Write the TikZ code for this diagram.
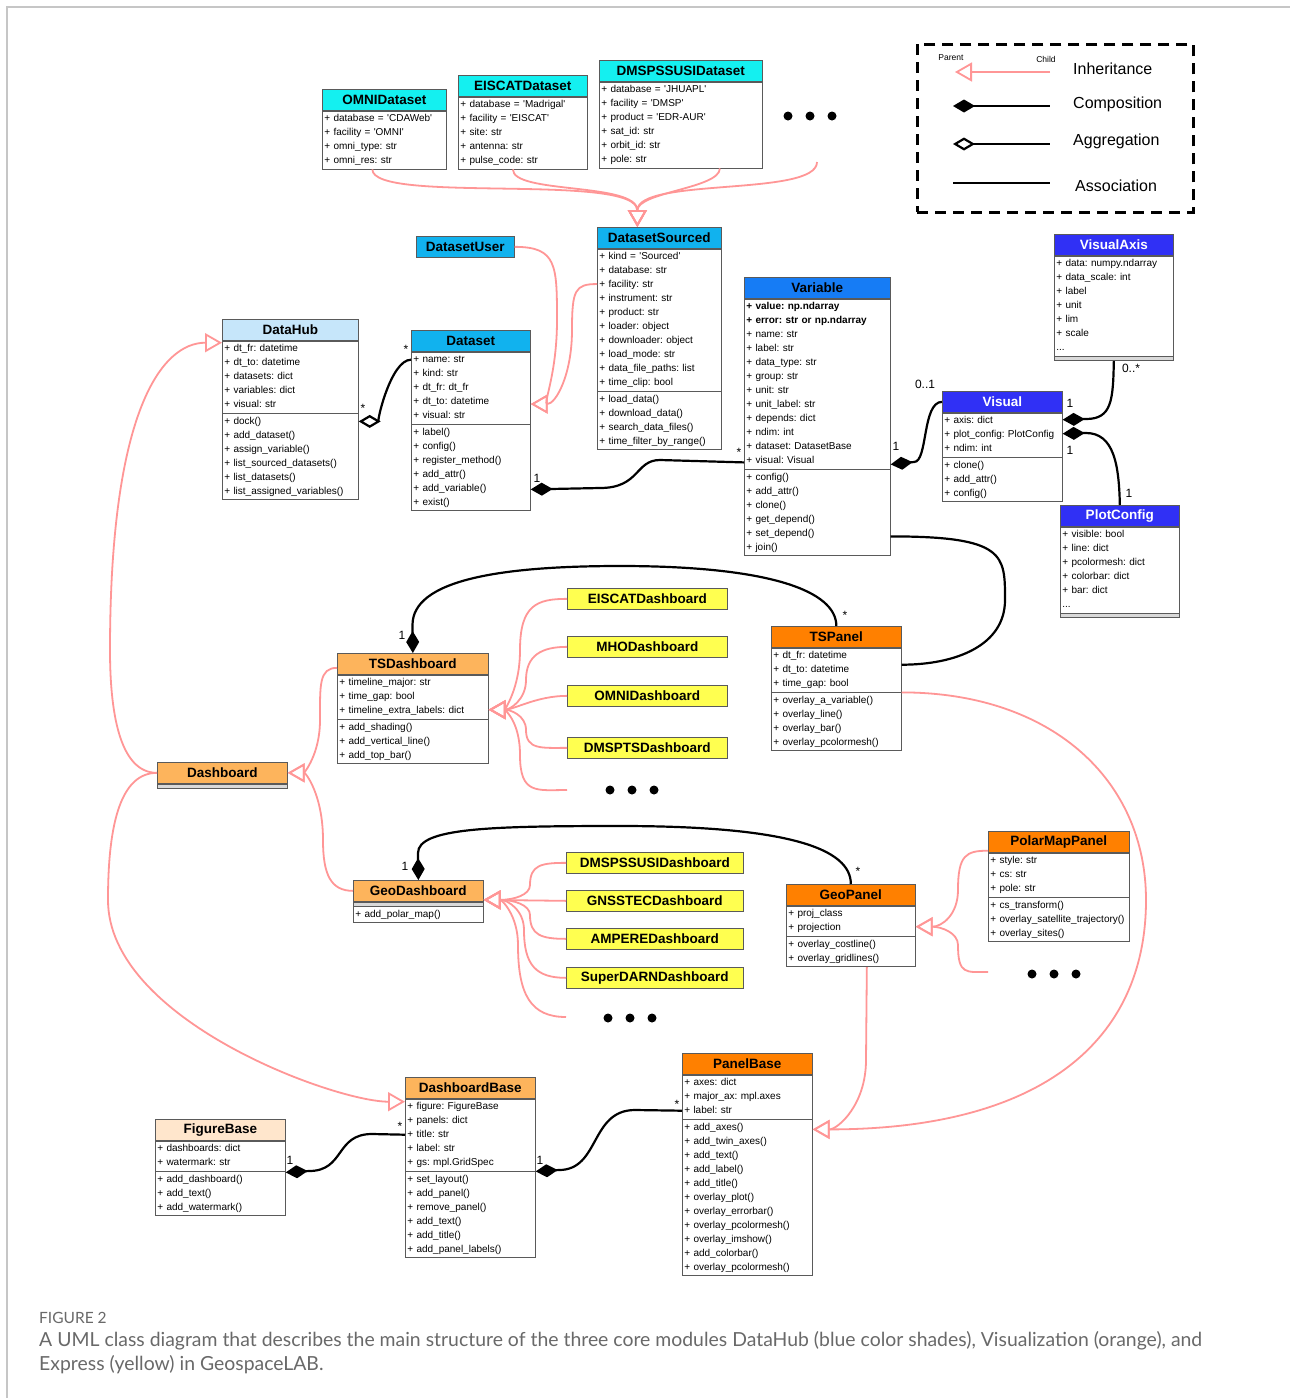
\documentclass[tikz,border=0pt]{standalone}
\usepackage{fontspec}
\setmainfont{Liberation Sans}
\newfontfamily\capfont{Lato}
\usetikzlibrary{arrows.meta,calc}
\frenchspacing
\definecolor{cyanA}{RGB}{20,240,240}
\definecolor{skyA}{RGB}{17,178,238}
\definecolor{hubA}{RGB}{198,230,250}
\definecolor{varA}{RGB}{22,124,245}
\definecolor{visA}{RGB}{48,48,245}
\definecolor{lorA}{RGB}{253,180,92}
\definecolor{orA}{RGB}{255,128,0}
\definecolor{peachA}{RGB}{255,230,204}
\definecolor{yelA}{RGB}{255,255,80}
\definecolor{pinkA}{RGB}{255,150,150}
\definecolor{bordA}{RGB}{90,90,90}
\definecolor{capA}{RGB}{105,105,105}
\newcommand\squo{\XeTeXglyph\XeTeXcharglyph"0027\relax}
\newcommand\UR[1]{\strut\mbox{+ #1}}
\newcommand\URb[1]{\strut\mbox{\bfseries + #1}}
\newcommand\UD{\strut\mbox{...}}
\newcommand\umlT[6]{\node[ctitle, fill=#5, minimum width=#4pt] (#1) at (#2,#3) {#6};}
\newcommand\umlS[4]{\pgfmathsetmacro\umltw{#3-4}\node[csec, text width=\umltw pt] (#1) at (#2.south west) {#4};}
\newcommand\umlE[3]{\node[cempty, minimum width=#3pt] (#1) at (#2.south west) {};}
\tikzset{
 bx/.style={draw=bordA, line width=0.7pt, anchor=north west},
 ctitle/.style={bx, minimum height=21pt, inner sep=0pt, font=\fontsize{13.5}{16}\selectfont\bfseries},
 csec/.style={bx, fill=white, inner xsep=2pt, inner ysep=1pt, align=left, font=\fontsize{10}{14}\selectfont\frenchspacing},
 cempty/.style={bx, fill=gray!30, inner sep=0pt, minimum height=4pt},
 ybox/.style={bx, fill=yelA, minimum width=#1, minimum height=21pt, inner sep=0pt, font=\fontsize{13.5}{16}\selectfont\bfseries},
 inh/.style={draw=pinkA, line width=1.8pt, -{Triangle[open,length=17pt,width=19pt]}},
 comp/.style={draw=black, line width=2.2pt, {Diamond[length=22pt,width=13pt]}-},
 agg/.style={draw=black, line width=2.2pt, {Diamond[open,length=22pt,width=13pt]}-},
 assoc/.style={draw=black, line width=2.2pt},
 mult/.style={font=\fontsize{12}{14}\selectfont, inner sep=0pt},
 dotn/.style={circle, fill=black, minimum size=9pt, inner sep=0pt},
 lgtext/.style={anchor=west, font=\fontsize{16}{19}\selectfont, inner sep=0pt},
 lgsmall/.style={font=\fontsize{8.5}{10}\selectfont, inner sep=0pt},
}
\begin{document}
\begin{tikzpicture}[x=1pt,y=-1pt]
\useasboundingbox (0,0) rectangle (1290,1398);
\fill[white] (0,0) rectangle (1290,1398);
\draw[gray!45, line width=1.2pt] (7,1398) -- (7,7) -- (1290,7);

% ---------- legend
\node[draw, line width=2.8pt, dash pattern=on 11pt off 7pt, anchor=north west, minimum width=276pt, minimum height=168pt, inner sep=0pt] (legend) at (916,43) {};
\coordinate (lgA1) at (1050,72); \coordinate (lgA2) at (955,72);
\draw[inh] (lgA1) -- (lgA2);
\node[lgsmall] (lgParent) at (951,58) {Parent};
\node[lgsmall] (lgChild) at (1046,59) {Child};
\node[lgtext] (lgI) at (1073,69) {Inheritance};
\coordinate (lgC1) at (953,106); \coordinate (lgC2) at (1050,106);
\draw[comp] (lgC1) -- (lgC2);
\node[lgtext] (lgC) at (1073,104) {Composition};
\coordinate (lgG1) at (953,144); \coordinate (lgG2) at (1050,144);
\draw[agg] (lgG1) -- (lgG2);
\node[lgtext] (lgG) at (1073,141) {Aggregation};
\coordinate (lgS1) at (953,183); \coordinate (lgS2) at (1050,183);
\draw[assoc] (lgS1) -- (lgS2);
\node[lgtext] (lgS) at (1075,186) {Association};

% ---------- dataset classes
\umlT{OMNI}{322}{89}{124}{cyanA}{OMNIDataset}
\umlS{OMNI-a}{OMNI}{124}{\UR{database = \squo CDAWeb\squo}\\\UR{facility = \squo OMNI\squo}\\\UR{omni\_type: str}\\\UR{omni\_res: str}}
\umlT{EISCAT}{458}{75}{129}{cyanA}{EISCATDataset}
\umlS{EISCAT-a}{EISCAT}{129}{\UR{database = \squo Madrigal\squo}\\\UR{facility = \squo EISCAT\squo}\\\UR{site: str}\\\UR{antenna: str}\\\UR{pulse\_code: str}}
\umlT{DMSP}{599}{60}{163}{cyanA}{DMSPSSUSIDataset}
\umlS{DMSP-a}{DMSP}{163}{\UR{database = \squo JHUAPL\squo}\\\UR{facility = \squo DMSP\squo}\\\UR{product = \squo EDR-AUR\squo}\\\UR{sat\_id: str}\\\UR{orbit\_id: str}\\\UR{pole: str}}
\node[dotn] (dA1) at (788,116) {};
\node[dotn] (dA2) at (810,116) {};
\node[dotn] (dA3) at (832,116) {};
\coordinate (dcA) at (817,162);

\umlT{DatasetUser}{416}{236}{98}{skyA}{DatasetUser}
\umlT{DatasetSourced}{597}{227}{124}{skyA}{DatasetSourced}
\umlS{DatasetSourced-a}{DatasetSourced}{124}{\UR{kind = \squo Sourced\squo}\\\UR{database: str}\\\UR{facility: str}\\\UR{instrument: str}\\\UR{product: str}\\\UR{loader: object}\\\UR{downloader: object}\\\UR{load\_mode: str}\\\UR{data\_file\_paths: list}\\\UR{time\_clip: bool}}
\umlS{DatasetSourced-m}{DatasetSourced-a}{124}{\UR{load\_data()}\\\UR{download\_data()}\\\UR{search\_data\_files()}\\\UR{time\_filter\_by\_range()}}

\umlT{Dataset}{411}{330}{119}{skyA}{Dataset}
\umlS{Dataset-a}{Dataset}{119}{\UR{name: str}\\\UR{kind: str}\\\UR{dt\_fr: dt\_fr}\\\UR{dt\_to: datetime}\\\UR{visual: str}}
\umlS{Dataset-m}{Dataset-a}{119}{\UR{label()}\\\UR{config()}\\\UR{register\_method()}\\\UR{add\_attr()}\\\UR{add\_variable()}\\\UR{exist()}}

\umlT{DataHub}{222}{319}{136}{hubA}{DataHub}
\umlS{DataHub-a}{DataHub}{136}{\UR{dt\_fr: datetime}\\\UR{dt\_to: datetime}\\\UR{datasets: dict}\\\UR{variables: dict}\\\UR{visual: str}}
\umlS{DataHub-m}{DataHub-a}{136}{\UR{dock()}\\\UR{add\_dataset()}\\\UR{assign\_variable()}\\\UR{list\_sourced\_datasets()}\\\UR{list\_datasets()}\\\UR{list\_assigned\_variables()}}

\umlT{Variable}{744}{277}{146}{varA}{Variable}
\umlS{Variable-a}{Variable}{146}{\URb{value: np.ndarray}\\\URb{error: str or np.ndarray}\\\UR{name: str}\\\UR{label: str}\\\UR{data\_type: str}\\\UR{group: str}\\\UR{unit: str}\\\UR{unit\_label: str}\\\UR{depends: dict}\\\UR{ndim: int}\\\UR{dataset: DatasetBase}\\\UR{visual: Visual}}
\umlS{Variable-m}{Variable-a}{146}{\UR{config()}\\\UR{add\_attr()}\\\UR{clone()}\\\UR{get\_depend()}\\\UR{set\_depend()}\\\UR{join()}}

\umlT{VisualAxis}{1054}{234}{119}{visA}{\color{white}VisualAxis}
\umlS{VisualAxis-a}{VisualAxis}{119}{\UR{data: numpy.ndarray}\\\UR{data\_scale: int}\\\UR{label}\\\UR{unit}\\\UR{lim}\\\UR{scale}\\\UD}
\umlE{VisualAxis-m}{VisualAxis-a}{119}

\umlT{Visual}{942}{391}{120}{visA}{\color{white}Visual}
\umlS{Visual-a}{Visual}{120}{\UR{axis: dict}\\\UR{plot\_config: PlotConfig}\\\UR{ndim: int}}
\umlS{Visual-m}{Visual-a}{120}{\UR{clone()}\\\UR{add\_attr()}\\\UR{config()}}

\umlT{PlotConfig}{1060}{505}{119}{visA}{\color{white}PlotConfig}
\umlS{PlotConfig-a}{PlotConfig}{119}{\UR{visible: bool}\\\UR{line: dict}\\\UR{pcolormesh: dict}\\\UR{colorbar: dict}\\\UR{bar: dict}\\\UD}
\umlE{PlotConfig-m}{PlotConfig-a}{119}

% ---------- visualization classes
\umlT{TSDashboard}{337}{653}{151}{lorA}{TSDashboard}
\umlS{TSDashboard-a}{TSDashboard}{151}{\UR{timeline\_major: str}\\\UR{time\_gap: bool}\\\UR{timeline\_extra\_labels: dict}}
\umlS{TSDashboard-m}{TSDashboard-a}{151}{\UR{add\_shading()}\\\UR{add\_vertical\_line()}\\\UR{add\_top\_bar()}}

\umlT{TSPanel}{771}{626}{130}{orA}{TSPanel}
\umlS{TSPanel-a}{TSPanel}{130}{\UR{dt\_fr: datetime}\\\UR{dt\_to: datetime}\\\UR{time\_gap: bool}}
\umlS{TSPanel-m}{TSPanel-a}{130}{\UR{overlay\_a\_variable()}\\\UR{overlay\_line()}\\\UR{overlay\_bar()}\\\UR{overlay\_pcolormesh()}}

\umlT{Dashboard}{157}{762}{130}{lorA}{Dashboard}
\umlE{Dashboard-a}{Dashboard}{130}

\umlT{GeoDashboard}{353}{880}{130}{lorA}{GeoDashboard}
\umlE{GeoDashboard-a}{GeoDashboard}{130}
\umlS{GeoDashboard-m}{GeoDashboard-a}{130}{\UR{add\_polar\_map()}}

\umlT{GeoPanel}{786}{884}{129}{orA}{GeoPanel}
\umlS{GeoPanel-a}{GeoPanel}{129}{\UR{proj\_class}\\\UR{projection}}
\umlS{GeoPanel-m}{GeoPanel-a}{129}{\UR{overlay\_costline()}\\\UR{overlay\_gridlines()}}

\umlT{PolarMapPanel}{988}{831}{141}{orA}{PolarMapPanel}
\umlS{PolarMapPanel-a}{PolarMapPanel}{141}{\UR{style: str}\\\UR{cs: str}\\\UR{pole: str}}
\umlS{PolarMapPanel-m}{PolarMapPanel-a}{141}{\UR{cs\_transform()}\\\UR{overlay\_satellite\_trajectory()}\\\UR{overlay\_sites()}}

\umlT{FigureBase}{155}{1119}{130}{peachA}{FigureBase}
\umlS{FigureBase-a}{FigureBase}{130}{\UR{dashboards: dict}\\\UR{watermark: str}}
\umlS{FigureBase-m}{FigureBase-a}{130}{\UR{add\_dashboard()}\\\UR{add\_text()}\\\UR{add\_watermark()}}

\umlT{DashboardBase}{405}{1077}{130}{lorA}{DashboardBase}
\umlS{DashboardBase-a}{DashboardBase}{130}{\UR{figure: FigureBase}\\\UR{panels: dict}\\\UR{title: str}\\\UR{label: str}\\\UR{gs: mpl.GridSpec}}
\umlS{DashboardBase-m}{DashboardBase-a}{130}{\UR{set\_layout()}\\\UR{add\_panel()}\\\UR{remove\_panel()}\\\UR{add\_text()}\\\UR{add\_title()}\\\UR{add\_panel\_labels()}}

\umlT{PanelBase}{682}{1053}{130}{orA}{PanelBase}
\umlS{PanelBase-a}{PanelBase}{130}{\UR{axes: dict}\\\UR{major\_ax: mpl.axes}\\\UR{label: str}}
\umlS{PanelBase-m}{PanelBase-a}{130}{\UR{add\_axes()}\\\UR{add\_twin\_axes()}\\\UR{add\_text()}\\\UR{add\_label()}\\\UR{add\_title()}\\\UR{overlay\_plot()}\\\UR{overlay\_errorbar()}\\\UR{overlay\_pcolormesh()}\\\UR{overlay\_imshow()}\\\UR{add\_colorbar()}\\\UR{overlay\_pcolormesh()}}

% ---------- express (yellow) classes
\node[ybox=160pt] (EISCATDashboard) at (567,588) {EISCATDashboard};
\node[ybox=160pt] (MHODashboard) at (567,636) {MHODashboard};
\node[ybox=160pt] (OMNIDashboard) at (567,685) {OMNIDashboard};
\node[ybox=160pt] (DMSPTSDashboard) at (567,737) {DMSPTSDashboard};
\node[ybox=177pt] (DMSPSSUSIDashboard) at (566,852) {DMSPSSUSIDashboard};
\node[ybox=177pt] (GNSSTECDashboard) at (566,890) {GNSSTECDashboard};
\node[ybox=177pt] (AMPEREDashboard) at (566,928) {AMPEREDashboard};
\node[ybox=177pt] (SuperDARNDashboard) at (566,967) {SuperDARNDashboard};

\node[dotn] (dT1) at (610,790) {};
\node[dotn] (dT2) at (632,790) {};
\node[dotn] (dT3) at (654,790) {};
\coordinate (dcT) at (567,790);
\node[dotn] (dG1) at (608,1018) {};
\node[dotn] (dG2) at (630,1018) {};
\node[dotn] (dG3) at (652,1018) {};
\coordinate (dcG) at (566,1017);
\node[dotn] (dP1) at (1032,974) {};
\node[dotn] (dP2) at (1054,974) {};
\node[dotn] (dP3) at (1076,974) {};
\coordinate (dcP) at (988,972);

% ---------- inheritance tips
\coordinate (tipDS) at ($(DatasetSourced.north)+(-22,0)$);
\coordinate (tipD) at ($(Dataset-a.east)+(0,16)$);
\coordinate (tipHub) at ($(DataHub.south west)+(0,2)$);
\coordinate (tipDB) at ($(DashboardBase.south west)+(0,3)$);
\coordinate (tipTS) at ($(TSDashboard-a.north east)+(0,35)$);
\coordinate (tipGeo) at ($(GeoDashboard.east)+(0,9)$);
\coordinate (tipGP) at ($(GeoPanel-a.north east)+(0,21)$);
\coordinate (tipPB) at ($(PanelBase-m.north east)+(0,10)$);

% ---------- inheritance links
\draw[inh] ($(OMNI-a.south)+(-12,0)$) .. controls +(0,35) and +(0,-55) .. (tipDS);
\draw[inh] ($(EISCAT-a.south)+(-10,0)$) .. controls +(0,25) and +(0,-45) .. (tipDS);
\draw[inh] ($(DMSP-a.south)+(39,0)$) .. controls +(0,20) and +(0,-35) .. (tipDS);
\draw[inh] (dcA) .. controls +(0,35) and +(0,-50) .. (tipDS);

\draw[inh] (DatasetUser.east) .. controls +(42,0) and +(0,-55) .. (557,320) .. controls +(0,55) and +(12,0) .. (tipD);
\draw[inh] ($(DatasetSourced-a.west)+(0,-36)$) .. controls +(-22,0) and +(0,-40) .. (572,330) .. controls +(0,45) and +(25,0) .. (tipD);

\draw[inh] (Dashboard.west) .. controls +(-35,0) and +(0,70) .. (110,650) .. controls +(0,-240) and +(-60,0) .. (tipHub);
\draw[inh] (Dashboard.west) .. controls +(-35,0) and +(0,-80) .. (108,900) .. controls +(0,120) and +(-70,0) .. (tipDB);

\draw[inh] ($(TSDashboard.west)+(0,4)$) .. controls +(-18,0) and +(0,-35) .. (320,720) .. controls +(0,35) and +(16,0) .. (Dashboard.east);
\draw[inh] (GeoDashboard.west) .. controls +(-22,0) and +(0,35) .. (323,840) .. controls +(0,-45) and +(18,0) .. (Dashboard.east);

\draw[inh] (EISCATDashboard.west) .. controls +(-30,0) and +(0,-45) .. (520,650) .. controls +(0,40) and +(15,0) .. (tipTS);
\draw[inh] (MHODashboard.west) .. controls +(-25,0) and +(0,-25) .. (526,680) .. controls +(0,20) and +(21,0) .. (tipTS);
\draw[inh] (OMNIDashboard.west) .. controls +(-30,0) and +(25,0) .. (tipTS);
\draw[inh] (DMSPTSDashboard.west) .. controls +(-25,0) and +(0,20) .. (526,730) .. controls +(0,-15) and +(21,0) .. (tipTS);
\draw[inh] (dcT) .. controls +(-30,0) and +(0,40) .. (520,755) .. controls +(0,-35) and +(15,0) .. (tipTS);

\draw[inh] (DMSPSSUSIDashboard.west) .. controls +(-25,0) and +(0,-20) .. (530,885) .. controls +(0,10) and +(30,0) .. (tipGeo);
\draw[inh] (GNSSTECDashboard.west) -- (tipGeo);
\draw[inh] (AMPEREDashboard.west) .. controls +(-25,0) and +(0,20) .. (530,915) .. controls +(0,-10) and +(30,0) .. (tipGeo);
\draw[inh] (SuperDARNDashboard.west) .. controls +(-30,0) and +(0,35) .. (524,930) .. controls +(0,-20) and +(24,0) .. (tipGeo);
\draw[inh] (dcG) .. controls +(-35,0) and +(0,50) .. (518,945) .. controls +(0,-30) and +(18,0) .. (tipGeo);

\draw[inh] ($(PolarMapPanel-a.north west)+(0,-2)$) .. controls +(-22,0) and +(0,-35) .. (958,890) .. controls +(0,25) and +(26,0) .. (tipGP);
\draw[inh] (dcP) .. controls +(-22,0) and +(0,30) .. (958,945) .. controls +(0,-12) and +(26,0) .. (tipGP);

\draw[inh] ($(GeoPanel-m.south)+(16,0)$) -- (866,1060) .. controls +(0,45) and +(25,0) .. (tipPB);
\draw[inh] (TSPanel-a.south east) .. controls +(150,0) and +(0,-120) .. (1146,900) .. controls +(0,140) and +(230,0) .. (tipPB);

% ---------- composition / aggregation / association
\draw[agg] ($(DataHub-m.north east)+(0,8)$) .. controls +(18,0) and +(-20,0) .. ($(Dataset.south west)+(0,8)$);
\draw[comp] ($(Dataset-m.north east)+(0,65)$) -- (600,488) .. controls (640,488) and (635,460) .. (660,460) -- ($(Variable-a.south west)+(0,-7)$);
\draw[comp] ($(Variable-a.south east)+(0,-5)$) -- (914,462) .. controls (928,462) and (922,402) .. (Visual.west);
\draw[comp] ($(Visual-a.north east)+(0,7)$) -- (1086,419) .. controls (1112,419) and (1113,400) .. (VisualAxis-m.south);
\draw[comp] ($(Visual-a.north east)+(0,21)$) -- (1086,433) .. controls (1114,433) and (1119,465) .. (PlotConfig.north);
\draw[assoc] ($(Variable-m.north east)+(0,67)$) .. controls +(115,0) and +(0,-45) .. (1005,600) .. controls +(0,45) and +(55,0) .. ($(TSPanel-a.north east)+(0,17)$);
\draw[comp] (TSDashboard.north) -- (412.5,625) .. controls +(0,-45) and +(-120,0) .. (620,566) .. controls +(150,0) and +(0,-35) .. (TSPanel.north);
\draw[comp] (GeoDashboard.north) -- (418,853) .. controls +(0,-25) and +(-130,0) .. (620,826) .. controls +(170,0) and +(0,-35) .. (GeoPanel.north);
\draw[comp] ($(FigureBase-m.north east)+(0,1)$) -- (309,1171) .. controls (345,1171) and (335,1134) .. (372,1134) -- ($(DashboardBase-a.north west)+(0,36)$);
\draw[comp] (DashboardBase-m.north east) -- (559,1170) .. controls (600,1170) and (590,1110) .. (635,1110) -- ($(PanelBase-a.north west)+(0,36)$);

% ---------- multiplicities
\node[mult] (m1) at (363,408) {*};
\node[mult] (m2) at (406,349) {*};
\node[mult] (m3) at (537,478) {1};
\node[mult] (m4) at (739,452) {*};
\node[mult] (m5) at (896,446) {1};
\node[mult] (m6) at (925,384) {0..1};
\node[mult] (m7) at (1070,403) {1};
\node[mult] (m8) at (1131,368) {0..*};
\node[mult] (m9) at (1070,450) {1};
\node[mult] (m10) at (1129,493) {1};
\node[mult] (m11) at (402,635) {1};
\node[mult] (m12) at (845,615) {*};
\node[mult] (m13) at (405,866) {1};
\node[mult] (m14) at (858,871) {*};
\node[mult] (m15) at (290,1160) {1};
\node[mult] (m16) at (400,1126) {*};
\node[mult] (m17) at (540,1160) {1};
\node[mult] (m18) at (677,1104) {*};

% ---------- caption
\node[anchor=west, inner sep=0pt, text=capA, font=\capfont\fontsize{15.5}{18}\selectfont] (capT) at (39,1318) {FIGURE 2};
\node[anchor=north west, inner sep=0pt, align=left, text=capA, font=\capfont\fontsize{19.4}{24.5}\selectfont] (capB) at (39,1331) {A UML class diagram that describes the main structure of the three core modules DataHub (blue color shades), Visualization (orange), and\\Express (yellow) in GeospaceLAB.};
\end{tikzpicture}
\end{document}
